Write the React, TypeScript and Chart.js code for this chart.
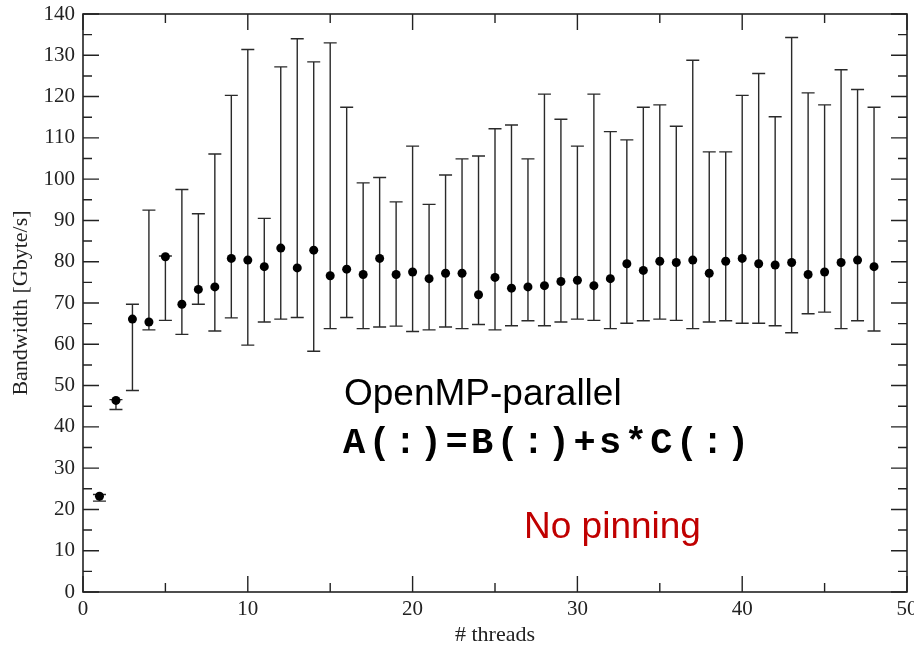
import React, { useEffect, useRef } from "react";
import { Chart, registerables } from "chart.js";

Chart.register(...registerables);

const threads = [
  1, 2, 3, 4, 5, 6, 7, 8, 9, 10, 11, 12, 13, 14, 15, 16, 17, 18, 19, 20, 21, 22, 23, 24,
  25, 26, 27, 28, 29, 30, 31, 32, 33, 34, 35, 36, 37, 38, 39, 40, 41, 42, 43, 44, 45, 46, 47, 48,
];

const meanBW = [
  23.2, 46.4, 66.1, 65.4, 81.2, 69.7, 73.3, 73.9, 80.8, 80.4, 78.8, 83.3,
  78.5, 82.8, 76.6, 78.2, 76.9, 80.8, 76.9, 77.5, 75.9, 77.2, 77.2, 72.0,
  76.2, 73.6, 73.9, 74.2, 75.2, 75.5, 74.2, 75.9, 79.5, 77.9, 80.1, 79.8,
  80.4, 77.2, 80.1, 80.8, 79.5, 79.2, 79.8, 76.9, 77.5, 79.8, 80.4, 78.8,
];

const minBW = [
  22.0, 44.2, 48.8, 63.5, 65.8, 62.4, 69.7, 63.2, 66.4, 59.8, 65.4, 66.1,
  66.5, 58.3, 63.8, 66.5, 63.8, 64.2, 64.4, 63.1, 63.5, 64.2, 63.8, 64.8,
  63.5, 64.5, 65.7, 64.5, 65.4, 66.1, 65.8, 63.8, 65.1, 65.7, 66.1, 65.8,
  63.8, 65.4, 65.7, 65.1, 65.1, 64.5, 62.8, 67.4, 67.8, 63.8, 65.7, 63.2,
];

const maxBW = [
  23.6, 46.6, 69.7, 92.5, 81.4, 97.5, 91.6, 106.1, 120.3, 131.4, 90.5, 127.2,
  134.0, 128.4, 133.0, 117.4, 99.1, 100.4, 94.5, 108.0, 93.9, 101.0, 104.9, 105.6,
  112.2, 113.1, 104.9, 120.6, 114.5, 108.0, 120.6, 111.5, 109.5, 117.4, 118.0, 112.8,
  128.8, 106.6, 106.6, 120.3, 125.6, 115.1, 134.3, 120.9, 118.0, 126.5, 121.7, 117.4,
];

const xMin = 0;
const xMax = 50;
const xStep = 10;
const yMin = 0;
const yMax = 140;
const yStep = 10;

const xTitle = "# threads";
const yTitle = "Bandwidth [Gbyte/s]";
const noteTitle = "OpenMP-parallel";
const noteFormula = "A(:)=B(:)+s*C(:)";
const noteRed = "No pinning";

const INK = "#222222";

const errorBarPlugin = {
  id: "errorBars",
  beforeDatasetsDraw(chart: any) {
    const { ctx } = chart;
    const x = chart.scales.x;
    const y = chart.scales.y;
    ctx.save();
    ctx.strokeStyle = "#2a2a2a";
    ctx.lineWidth = 1.4;
    const cap = 6.5;
    threads.forEach((t, i) => {
      const px = x.getPixelForValue(t);
      const top = y.getPixelForValue(maxBW[i]);
      const bot = y.getPixelForValue(minBW[i]);
      ctx.beginPath();
      ctx.moveTo(px, top);
      ctx.lineTo(px, bot);
      ctx.moveTo(px - cap, top);
      ctx.lineTo(px + cap, top);
      ctx.moveTo(px - cap, bot);
      ctx.lineTo(px + cap, bot);
      ctx.stroke();
    });
    ctx.restore();
  },
};

const framePlugin = {
  id: "frameTicks",
  beforeDatasetsDraw(chart: any) {
    const { ctx, chartArea } = chart;
    const x = chart.scales.x;
    const y = chart.scales.y;
    const { left, right, top, bottom } = chartArea;
    const major = 16;
    const minor = 9;
    ctx.save();
    ctx.strokeStyle = INK;
    ctx.lineWidth = 1.4;
    ctx.beginPath();
    for (let v = xMin; v <= xMax; v += xStep / 2) {
      const len = v % xStep === 0 ? major : minor;
      const px = x.getPixelForValue(v);
      ctx.moveTo(px, bottom);
      ctx.lineTo(px, bottom - len);
      ctx.moveTo(px, top);
      ctx.lineTo(px, top + len);
    }
    for (let v = yMin; v <= yMax; v += yStep / 2) {
      const len = v % yStep === 0 ? major : minor;
      const py = y.getPixelForValue(v);
      ctx.moveTo(left, py);
      ctx.lineTo(left + len, py);
      ctx.moveTo(right, py);
      ctx.lineTo(right - len, py);
    }
    ctx.stroke();
    ctx.lineWidth = 1.6;
    ctx.strokeRect(left, top, right - left, bottom - top);
    ctx.restore();
  },
};

const notesPlugin = {
  id: "notes",
  afterDraw(chart: any) {
    const { ctx } = chart;
    ctx.save();
    ctx.textBaseline = "alphabetic";
    ctx.textAlign = "left";
    ctx.fillStyle = "#000000";
    ctx.font = "37px 'Liberation Sans', Arial, sans-serif";
    ctx.fillText(noteTitle, 344, 405);
    ctx.font = "bold 37px 'Liberation Mono', 'Courier New', monospace";
    try {
      (ctx as any).letterSpacing = "3.4px";
    } catch (e) {}
    ctx.fillText(noteFormula, 343, 453);
    try {
      (ctx as any).letterSpacing = "0px";
    } catch (e) {}
    ctx.fillStyle = "#c00000";
    ctx.font = "37px 'Liberation Sans', Arial, sans-serif";
    ctx.fillText(noteRed, 524, 538);
    ctx.restore();
  },
};

export default function App() {
  const canvasRef = useRef<HTMLCanvasElement | null>(null);

  useEffect(() => {
    const canvas = canvasRef.current;
    if (!canvas) return;
    const chart = new Chart(canvas, {
      type: "scatter",
      data: {
        datasets: [
          {
            label: "Bandwidth",
            data: threads.map((t, i) => ({ x: t, y: meanBW[i] })),
            backgroundColor: "#000000",
            borderColor: "#000000",
            borderWidth: 0,
            pointRadius: 4.5,
            pointHoverRadius: 4.5,
            pointStyle: "circle",
            showLine: false,
          },
        ],
      },
      options: {
        responsive: false,
        animation: false,
        devicePixelRatio: 1,
        layout: { padding: { top: 14, right: 7, left: 0, bottom: 0 } },
        plugins: {
          legend: { display: false },
          tooltip: { enabled: false },
        },
        scales: {
          x: {
            type: "linear",
            min: xMin,
            max: xMax,
            grid: { display: false, drawTicks: false },
            border: { display: false },
            ticks: {
              stepSize: xStep,
              maxRotation: 0,
              autoSkip: false,
              padding: 5,
              color: INK,
              font: { family: "'Liberation Serif', 'Times New Roman', serif", size: 21, lineHeight: 1.2 },
            },
            title: {
              display: true,
              text: xTitle,
              color: INK,
              font: { family: "'Liberation Serif', 'Times New Roman', serif", size: 22, lineHeight: 1 },
              padding: { top: 0, bottom: 0 },
            },
            afterFit: (s: any) => {
              s.height = 54;
              s.paddingLeft = 0;
              s.paddingRight = 0;
            },
          },
          y: {
            type: "linear",
            min: yMin,
            max: yMax,
            grid: { display: false, drawTicks: false },
            border: { display: false },
            ticks: {
              stepSize: yStep,
              autoSkip: false,
              padding: 8,
              color: INK,
              font: { family: "'Liberation Serif', 'Times New Roman', serif", size: 21, lineHeight: 1.2 },
            },
            title: {
              display: true,
              text: yTitle,
              color: INK,
              font: { family: "'Liberation Serif', 'Times New Roman', serif", size: 22, lineHeight: 1 },
              padding: { top: 10, bottom: 0 },
            },
            afterFit: (s: any) => {
              s.width = 83;
              s.paddingTop = 0;
              s.paddingBottom = 0;
            },
          },
        },
      },
      plugins: [framePlugin, errorBarPlugin, notesPlugin],
    });
    return () => chart.destroy();
  }, []);

  return (
    <div style={{ position: "fixed", left: 0, top: 0, width: 914, height: 646, background: "#ffffff" }}>
      <canvas ref={canvasRef} width={914} height={646} style={{ display: "block" }} />
    </div>
  );
}
